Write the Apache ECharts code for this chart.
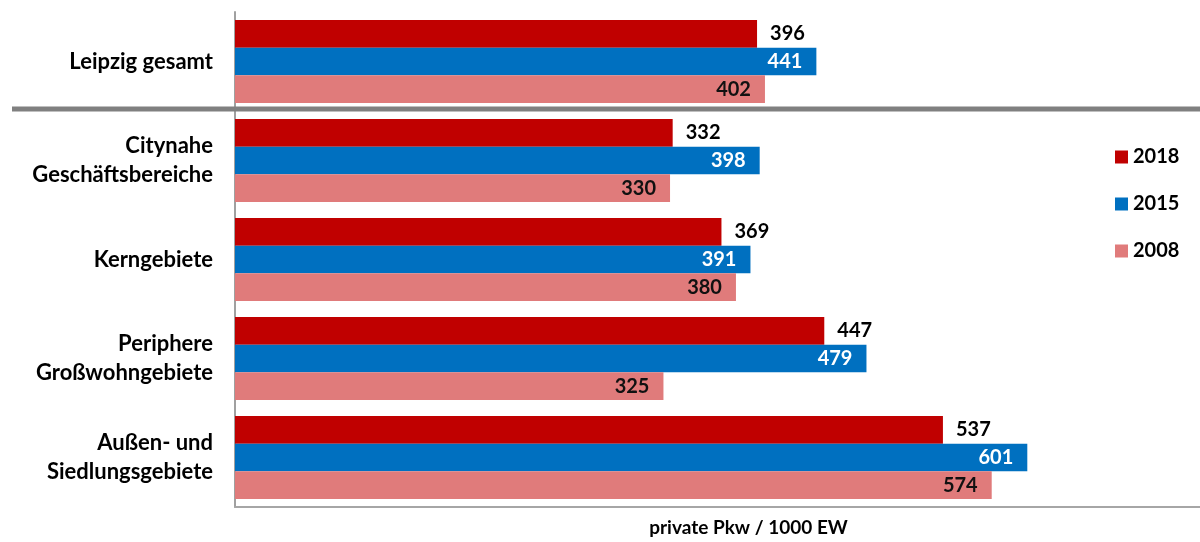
<!DOCTYPE html>
<html>
<head>
<meta charset="utf-8">
<script src="https://cdn.jsdelivr.net/npm/echarts@6/dist/echarts.min.js"></script>
<style>html,body{margin:0;padding:0;background:#fff;overflow:hidden;}#c{width:1200px;height:542px;}</style>
</head>
<body>
<div id="c"></div>
<script>
const categories = ['Leipzig gesamt', 'Citynahe\nGeschäftsbereiche', 'Kerngebiete', 'Periphere\nGroßwohngebiete', 'Außen- und\nSiedlungsgebiete'];
const years = ['2018', '2015', '2008'];
const values2018 = [396, 332, 369, 447, 537];
const values2015 = [441, 398, 391, 479, 601];
const values2008 = [402, 330, 380, 325, 574];
const axisName = 'private Pkw / 1000 EW';

const FONT = 'Lato';
const chart = echarts.init(document.getElementById('c'), null, {renderer: 'canvas', width: 1200, height: 542});
const lbl = (pos, color, dist) => ({
  show: true, position: pos, distance: dist, color: color,
  fontFamily: FONT, fontWeight: 'bold', fontSize: 20
});
const option = {
  backgroundColor: '#fff',
  animation: false,
  textStyle: {fontFamily: FONT},
  legend: {
    orient: 'vertical', left: 1110, top: 142,
    itemWidth: 13, itemHeight: 13, itemGap: 27,
    icon: 'rect',
    textStyle: {fontFamily: FONT, fontWeight: 'bold', fontSize: 20, color: '#000'},
    data: years
  },
  grid: {left: 235, right: 0, top: 12, bottom: 25, containLabel: false},
  xAxis: {
    type: 'value', min: 0, max: 732,
    axisLabel: {show: false}, axisTick: {show: false}, splitLine: {show: false},
    axisLine: {show: true, lineStyle: {color: '#a6a6a6', width: 2}},
    name: axisName, nameLocation: 'middle', nameGap: 11,
    nameTextStyle: {fontFamily: FONT, fontWeight: 'bold', fontSize: 19, color: '#000', padding: [0, 0, 0, 62]}
  },
  yAxis: {
    type: 'category', data: categories, inverse: true,
    axisTick: {show: false},
    axisLine: {show: true, lineStyle: {color: '#a0a0a0', width: 2}},
    axisLabel: {margin: 22, color: '#000', fontFamily: FONT, fontWeight: 'bold', fontSize: 22, lineHeight: 29, align: 'right'}
  },
  series: [
    {name: years[0], type: 'bar', data: values2018, itemStyle: {color: '#C00000'},
     barGap: '0%', barCategoryGap: '16%', label: lbl('right', '#000', 13)},
    {name: years[1], type: 'bar', data: values2015, itemStyle: {color: '#0070C0'},
     barGap: '0%', barCategoryGap: '16%', label: lbl('insideRight', '#fff', 14)},
    {name: years[2], type: 'bar', data: values2008, itemStyle: {color: '#E07B7B'},
     barGap: '0%', barCategoryGap: '16%', label: lbl('insideRight', '#111', 14)}
  ]
};
chart.setOption(option);
const y0 = chart.convertToPixel({yAxisIndex: 0}, categories[0]);
const y1 = chart.convertToPixel({yAxisIndex: 0}, categories[1]);
const sepY = (y0 + y1) / 2 - 2;
chart.setOption({
  graphic: [{
    type: 'line', z: 100,
    shape: {x1: 12, y1: sepY, x2: 1200, y2: sepY},
    style: {stroke: '#808080', lineWidth: 5}
  }]
});
</script>
</body>
</html>
